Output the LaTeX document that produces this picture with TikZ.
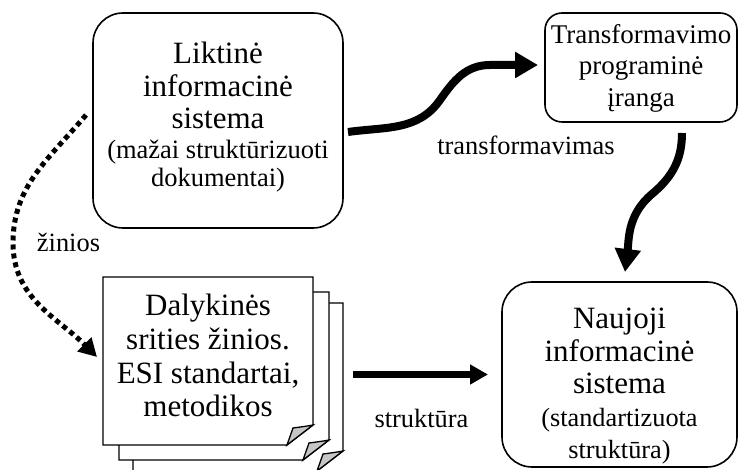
\documentclass[tikz,border=0pt]{standalone}
\usepackage{fontspec}
\setmainfont{Liberation Serif}
\usetikzlibrary{arrows.meta,calc}
\newcommand\docpage[2]{%
  \begin{scope}[shift={(#1,#2)}]
    \draw[pageline,fill=white] (0,0) -- (0,168) -- (210,168) -- (210,20) -- (184,0) -- cycle;
    \draw[pageline,fill=gray!45] (184,0) -- (190,17) .. controls (198,18) and (205,19) .. (210,20) -- cycle;
  \end{scope}}
\newcommand\fmedA{\fontsize{26.5}{28.5}\selectfont}
\newcommand\fmedB{\fontsize{26.3}{31.5}\selectfont}
\begin{document}
\begin{tikzpicture}[x=1pt,y=1pt,
  box/.style={draw,line width=1.6pt,rounded corners=#1,inner sep=0pt,outer sep=0pt},
  pageline/.style={line width=1.3pt,line join=miter},
  txt/.style={inner sep=0pt,align=center,anchor=north},
  lab/.style={inner sep=0pt,anchor=base,font=\fontsize{26.4}{30}\selectfont},
  bigarrow/.style={line width=8pt,-{Triangle[length=23pt,width=25pt]}},
  strarrow/.style={line width=6.5pt,-{Triangle[length=18pt,width=19pt]}},
  dotarrow/.style={line width=5pt,dash pattern=on 5pt off 4pt,-{Triangle[length=18pt,width=19pt]}}]
\useasboundingbox (0,0) rectangle (739,470);
% boxes
\node[box=30pt,minimum width=250pt,minimum height=215pt] (b1) at (218,349.5) {};
\node[box=17pt,minimum width=192pt,minimum height=109pt] (b2) at (641,402.5) {};
\node[box=30pt,minimum width=235pt,minimum height=185pt] (b3) at (619.5,95.5) {};
% document stack
\docpage{133}{-1}
\docpage{119}{10}
\docpage{103}{25}
\node[inner sep=0pt,outer sep=0pt,minimum width=210pt,minimum height=168pt] (doc) at (208,109) {};
% texts
\node[txt,font=\fontsize{31}{32.5}\selectfont] (t1) at (218,428) {Liktinė\\informacinė\\sistema\\[-3pt]\fmedA (mažai struktūrizuoti\\[-4pt]\fmedA dokumentai)};
\node[txt,font=\fontsize{27}{31.5}\selectfont] (t2) at (641,446) {Transformavimo\\programinė\\įranga};
\node[txt,font=\fontsize{31}{32.5}\selectfont] (t3) at (619.5,162) {Naujoji\\informacinė\\sistema\\\fmedB (standartizuota\\\fmedB struktūra)};
\node[txt,font=\fontsize{31}{33.7}\selectfont] (t4) at (208,176) {Dalykinės\\srities žinios.\\ESI standartai,\\metodikos};
% labels
\node[lab] (l1) at (526,315) {transformavimas};
\node[lab] (l2) at (68.5,218) {žinios};
\node[lab] (l3) at (421.5,42) {struktūra};
% connectors
\draw[bigarrow] ($(b1.east)+(5,-11.5)$) to[out=8,in=235] (440,370) to[out=55,in=180] (490,405) -- ($(b2.west)+(-7,2.5)$);
\draw[bigarrow] ($(b2.south)+(41,-11)$) to[out=-90,in=40] (652,276) to[out=220,in=83] ($(b3.north)+(5.5,10)$);
\draw[dotarrow] ($(b1.west)+(-7,5.5)$) to[out=230,in=90] (13,227) to[out=-90,in=135] ($(doc.west)+(-6,4)$);
\draw[strarrow] ($(doc.east)+(40,-13.5)$) -- ($(b3.west)+(-14,0)$);
\end{tikzpicture}
\end{document}
